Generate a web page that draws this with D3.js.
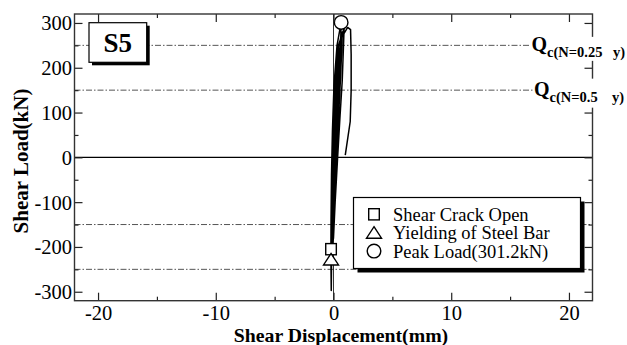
<!DOCTYPE html>
<html><head><meta charset="utf-8">
<script src="https://cdn.jsdelivr.net/npm/d3@7"></script>
<style>
html,body{margin:0;padding:0;background:#fff;}
svg{display:block;}
</style></head><body>
<svg id="chart" width="627" height="345"></svg>
<script>
// Cyclic loading history of specimen S5: shear displacement (mm) and shear load (kN)
const displacement = [
  0, 0.03, 0.07, 0.12,
  0.09, 0.05, 0.02, -0.04, -0.08,
  -0.07, -0.05, 0.0, 0.08, 0.2,
  0.16, 0.1, 0.05, -0.02, -0.12,
  -0.11, -0.08, -0.02, 0.1, 0.3,
  0.25, 0.18, 0.1, 0.02, -0.15,
  -0.14, -0.1, -0.03, 0.1, 0.45,
  0.4, 0.3, 0.2, 0.1, -0.02, -0.18,
  -0.17, -0.13, -0.06, 0.06, 0.25, 0.6,
  0.55, 0.45, 0.3, 0.18, 0.05, -0.2,
  -0.19, -0.15, -0.08, 0.05, 0.25, 0.75,
  0.7, 0.6, 0.45, 0.3, 0.12, -0.05, -0.21,
  -0.2, -0.16, -0.08, 0.05, 0.3, 0.9,
  0.85, 0.74, 0.55, 0.35, 0.14, 0.0, -0.22,
  -0.21, -0.17, -0.09, 0.04, 0.3, 0.65,
  0.6, 0.5, 0.35, 0.25, 0.1, -0.05, -0.2, -0.22, -0.19,
  -0.15, -0.12, -0.06, 0.05, 0.3, 0.75, 1.2, 1.45,
  1.5, 1.5, 1.42, 1.0
];
const shearLoad = [
  0, 50, 100, 140,
  90, 30, -30, -90, -130,
  -80, -20, 60, 140, 185,
  120, 40, -30, -110, -170,
  -110, -30, 70, 160, 215,
  150, 60, -20, -100, -185,
  -120, -30, 70, 165, 245,
  190, 100, 10, -70, -150, -195,
  -130, -40, 60, 160, 225, 265,
  220, 150, 50, -30, -110, -200,
  -140, -40, 60, 160, 230, 280,
  240, 180, 100, 20, -80, -170, -205,
  -140, -40, 60, 160, 240, 288,
  250, 170, 90, 0, -100, -180, -205,
  -140, -40, 60, 160, 250, 301.2,
  250, 170, 80, 0, -100, -170, -205, -225, -297,
  -200, -100, 0, 100, 200, 270, 290, 285,
  230, 150, 80, 5
];

// Key events
const eventNames = ["Shear Crack Open", "Yielding of Steel Bar", "Peak Load(301.2kN)"];
const eventSymbols = ["square", "triangle", "circle"];
const eventDisp = [-0.21, -0.21, 0.65];
const eventLoad = [-205, -228, 301.2];

// Calculated shear strength levels
const refLevels = [250, 150, -150, -250];
const refLabelLoads = [250, 150];
const refLabelSubs = ["c(N=0.25", "c(N=0.5"];

const xTicks = [-20, -10, 0, 10, 20];
const xMinor = [-15, -5, 5, 15];
const yTicks = [-300, -200, -100, 0, 100, 200, 300];
const yMinor = [-250, -150, -50, 50, 150, 250];

const FONT = '"Liberation Serif", "Times New Roman", Times, serif';
const svg = d3.select("#chart");
const L = 74.5, R = 592.5, T = 14, B = 300.7;
const x = d3.scaleLinear().domain([-22, 22]).range([L, R]);
const y = d3.scaleLinear().domain([-320, 320]).range([B, T]);

// dash-dot reference levels
svg.append("g").selectAll("line").data(refLevels).join("line")
  .attr("x1", L).attr("x2", R)
  .attr("y1", d => y(d)).attr("y2", d => y(d))
  .attr("stroke", "#555").attr("stroke-width", 1)
  .attr("stroke-dasharray", "6,2,1.5,2");

// zero lines
svg.append("line").attr("x1", L).attr("x2", R).attr("y1", y(0)).attr("y2", y(0))
  .attr("stroke", "#000").attr("stroke-width", 1.2);
svg.append("line").attr("x1", x(0)).attr("x2", x(0)).attr("y1", T).attr("y2", B)
  .attr("stroke", "#000").attr("stroke-width", 0.8);

// hysteresis curve
const pts = displacement.map((d, i) => [d, shearLoad[i]]);
svg.append("path").datum(pts)
  .attr("fill", "none").attr("stroke", "#000").attr("stroke-width", 1.5)
  .attr("stroke-linejoin", "round")
  .attr("d", d3.line().x(d => x(d[0])).y(d => y(d[1])));

// symbol drawing
function drawSymbol(g, type, cx, cy) {
  if (type === "square") {
    g.append("rect").attr("x", cx - 5.3).attr("y", cy - 5.6).attr("width", 10.6).attr("height", 11.2)
      .attr("fill", "#fff").attr("stroke", "#000").attr("stroke-width", 1.4);
  } else if (type === "triangle") {
    g.append("path").attr("d", `M${cx},${cy - 6} L${cx + 7.5},${cy + 5.5} L${cx - 7.5},${cy + 5.5}Z`)
      .attr("fill", "#fff").attr("stroke", "#000").attr("stroke-width", 1.4);
  } else {
    g.append("circle").attr("cx", cx).attr("cy", cy).attr("r", 6.8)
      .attr("fill", "#fff").attr("stroke", "#000").attr("stroke-width", 1.4);
  }
}
const marks = svg.append("g");
eventSymbols.forEach((s, i) => drawSymbol(marks, s, x(eventDisp[i]), y(eventLoad[i])));

// specimen tag
const tag = svg.append("g");
tag.append("rect").attr("x", 92).attr("y", 25.7).attr("width", 57.7).attr("height", 39.6).attr("fill", "#000");
tag.append("rect").attr("x", 89).attr("y", 22.7).attr("width", 57.7).attr("height", 39.6)
  .attr("fill", "#fff").attr("stroke", "#000").attr("stroke-width", 1.2);
tag.append("text").attr("x", 117.8).attr("y", 52).attr("text-anchor", "middle")
  .style("font-family", FONT).attr("font-size", 27).attr("font-weight", "bold").text("S5");

// legend
const lg = svg.append("g");
lg.append("rect").attr("x", 357.5).attr("y", 201.5).attr("width", 227).attr("height", 71).attr("fill", "#000");
lg.append("rect").attr("x", 353.5).attr("y", 197.5).attr("width", 227).attr("height", 71)
  .attr("fill", "#fff").attr("stroke", "#000").attr("stroke-width", 1.2);
eventNames.forEach((n, i) => {
  const cy = 214.3 + i * 18.4;
  drawSymbol(lg, eventSymbols[i], 374, cy);
  lg.append("text").attr("x", 393).attr("y", cy + 6.5)
    .style("font-family", FONT).attr("font-size", 18.5).text(n);
});

// axes with inward ticks on all four sides
function addAxis(axisFn, ticks, size, transform, labels) {
  const a = axisFn.tickValues(ticks).tickSize(-size).tickPadding(labels ? 5 : 0)
    .tickFormat(labels ? (d => d) : "");
  const g = svg.append("g").attr("transform", transform).call(a);
  g.select(".domain").remove();
  g.selectAll(".tick line").attr("stroke", "#222").attr("stroke-width", 1.2);
  g.selectAll(".tick text").attr("font-size", 20.5).attr("fill", "#000").style("font-family", FONT);
  return g;
}
addAxis(d3.axisBottom(x), xTicks, 8, `translate(0,${B})`, true);
addAxis(d3.axisBottom(x), xMinor, 4, `translate(0,${B})`, false);
addAxis(d3.axisTop(x), xTicks, 8, `translate(0,${T})`, false);
addAxis(d3.axisTop(x), xMinor, 4, `translate(0,${T})`, false);
const yl = addAxis(d3.axisLeft(y), yTicks, 8, `translate(${L},0)`, true);
yl.selectAll(".tick text").attr("x", -2.5).attr("dy", "0.34em");
addAxis(d3.axisLeft(y), yMinor, 4, `translate(${L},0)`, false);
addAxis(d3.axisRight(y), yTicks, 8, `translate(${R},0)`, false);
addAxis(d3.axisRight(y), yMinor, 4, `translate(${R},0)`, false);

// frame
svg.append("rect").attr("x", L).attr("y", T).attr("width", R - L).attr("height", B - T)
  .attr("fill", "none").attr("stroke", "#333").attr("stroke-width", 1.4);

// shear strength labels
refLabelLoads.forEach((v, i) => {
  const yy = y(v);
  const x0 = i === 0 ? 531.5 : 534;
  svg.append("rect").attr("x", x0 - 1).attr("y", yy - 8.5 - i * 3).attr("width", 627 - x0 + 1).attr("height", 24 + i * 5)
    .attr("fill", "#fff");
  const t = svg.append("text").attr("y", yy + 6).attr("font-weight", "bold").style("font-family", FONT);
  t.append("tspan").attr("x", x0).attr("font-size", 20).text("Q");
  t.append("tspan").attr("font-size", 14.5).attr("dy", 6).text(refLabelSubs[i]);
  t.append("tspan").attr("x", i === 0 ? 613 : 612).attr("font-size", 14.5).text("y)");
});

// axis titles
svg.append("text").attr("x", 341).attr("y", 341.5).attr("text-anchor", "middle").style("font-family", FONT)
  .attr("font-size", 19.8).attr("font-weight", "bold").text("Shear Displacement(mm)");
svg.append("text").attr("transform", "translate(28,161) rotate(-90)").attr("text-anchor", "middle").style("font-family", FONT)
  .attr("font-size", 21).attr("font-weight", "bold").text("Shear Load(kN)");
</script>
</body></html>
